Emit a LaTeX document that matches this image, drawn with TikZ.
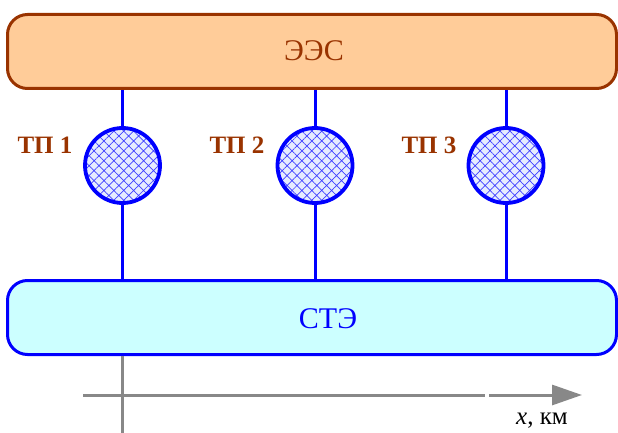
\documentclass[tikz,border=0pt]{standalone}
\usepackage{fontspec}
\setmainfont{Liberation Serif}
\usetikzlibrary{patterns.meta,arrows.meta}
\definecolor{brn}{HTML}{993300}
\definecolor{peach}{HTML}{FFCC99}
\definecolor{cyanfill}{HTML}{CCFFFF}
\definecolor{hbg}{HTML}{E6ECFF}
\definecolor{gr}{HTML}{888888}
\tikzset{
  bigbox/.style={rectangle, rounded corners=20pt, line width=3pt, minimum width=609pt, minimum height=74pt, inner sep=0pt},
  tpc/.style={circle, draw=blue, line width=3.8pt, minimum size=75pt, inner sep=0pt,
    preaction={fill=hbg},
    pattern={Hatch[angle=45,distance=7pt,line width=0.7pt]}, pattern color=blue!75},
  tplabel/.style={text=brn, font=\fontsize{25}{28}\selectfont\bfseries, inner sep=0pt},
  wire/.style={blue, line width=3pt},
  axis/.style={gr, line width=3pt}
}
\begin{document}
\begin{tikzpicture}[x=1pt,y=-1pt]
\useasboundingbox (0,0) rectangle (618,433);
\node[bigbox, draw=brn, fill=peach] (ees) at (312,51.5) {};
\node[text=brn, font=\fontsize{30}{32}\selectfont, inner sep=0pt] (eestxt) at (314,51) {ЭЭС};
\node[bigbox, draw=blue, fill=cyanfill] (ste) at (312,317.5) {};
\node[text=blue, font=\fontsize{30}{32}\selectfont, inner sep=0pt] (stetxt) at (328,319) {СТЭ};

\node[tpc] (tp1) at (122.5,165.5) {};
\node[tpc] (tp2) at (315,165.5) {};
\node[tpc] (tp3) at (506,165.5) {};

\node[tplabel] (l1) at (45,145) {ТП 1};
\node[tplabel] (l2) at (237,145) {ТП 2};
\node[tplabel] (l3) at (429,145) {ТП 3};

\foreach \n in {tp1,tp2,tp3}{
  \draw[wire] (\n.north) -- (\n.north |- ees.south);
  \draw[wire] (\n.south) -- (\n.south |- ste.north);
}

\coordinate (ax0) at (83,395);
\coordinate (axg1) at (485,395);
\coordinate (axg2) at (489,395);
\coordinate (ax1) at (582,395);
\draw[axis] (ax0) -- (axg1);
\draw[axis, -{Triangle[length=30pt,width=20pt]}] (axg2) -- (ax1);
\coordinate (vb) at (122,433);
\draw[axis] (ste.south -| vb) -- (vb);
\node[font=\fontsize{25}{27}\selectfont, inner sep=0pt] (xl) at (542,421) {\textit{x}, км};
\end{tikzpicture}
\end{document}
